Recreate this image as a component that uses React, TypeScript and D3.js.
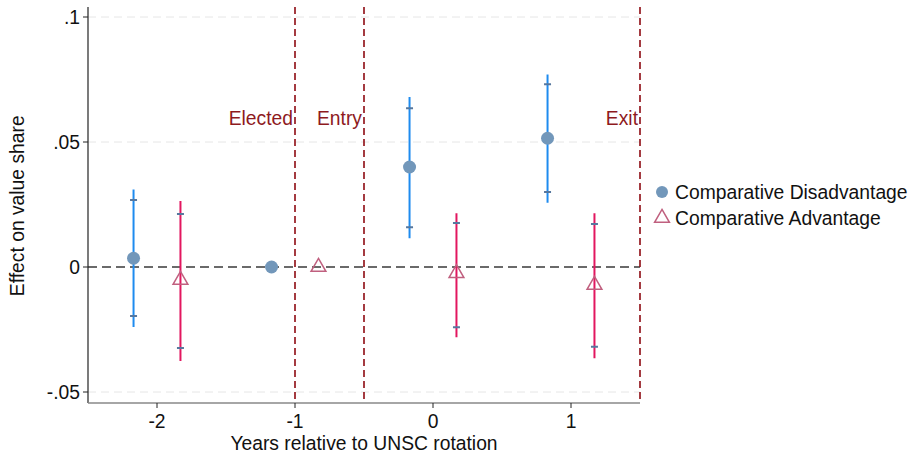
import React from 'react';
import * as d3 from 'd3';

// event study estimates, by year relative to rotation
const years = [-2, -1, 0, 1];
const cdEst = [0.0035, 0, 0.040, 0.0515];
const cdLo95 = [-0.024, null, 0.0115, 0.0257];
const cdHi95 = [0.031, null, 0.068, 0.077];
const cdLo90 = [-0.0196, null, 0.0159, 0.030];
const cdHi90 = [0.0268, null, 0.0635, 0.0731];
const caEst = [-0.0052, 0, -0.0025, -0.0072];
const caLo95 = [-0.0376, null, -0.0281, -0.0365];
const caHi95 = [0.0264, null, 0.0215, 0.0215];
const caLo90 = [-0.0324, null, -0.0241, -0.0319];
const caHi90 = [0.0212, null, 0.0176, 0.0172];

const events = [
  { x: -1, label: 'Elected' },
  { x: -0.5, label: 'Entry' },
  { x: 1.5, label: 'Exit' },
];
const yTicks = [0.1, 0.05, 0, -0.05];
const yTickLabels = ['.1', '.05', '0', '-.05'];
const xTicks = [-2, -1, 0, 1];

const W = 915;
const H = 454;
const margin = { top: 7, right: 275, bottom: 51, left: 88 };
const shift = 0.17;
const font = "'Liberation Sans', Arial, Helvetica, sans-serif";
const fs = 19.3;

const x = d3.scaleLinear().domain([-2.5, 1.5]).range([margin.left, W - margin.right]);
const y = d3.scaleLinear().domain([-0.0544, 0.104]).range([H - margin.bottom, margin.top]);

const triangle = d3.symbol().type(d3.symbolTriangle).size(95);

const series = [
  { name: 'Comparative Disadvantage', off: -shift, est: cdEst, lo95: cdLo95, hi95: cdHi95, lo90: cdLo90, hi90: cdHi90, line: '#1E8BEF', marker: '#7297BA', shape: 'circle' },
  { name: 'Comparative Advantage', off: shift, est: caEst, lo95: caLo95, hi95: caHi95, lo90: caLo90, hi90: caHi90, line: '#E2165F', marker: '#C0607F', shape: 'triangle' },
];

const App = () => {
  const x0 = x.range()[0];
  const x1 = x.range()[1];
  const yb = y.range()[0];
  const yt = y.range()[1];
  return (
    <svg width={W} height={H} style={{ position: 'absolute', left: 0, top: 0, background: '#fff' }} fontFamily={font}>
      {/* grid */}
      {yTicks.filter(t => t !== 0).map(t => (
        <line key={t} x1={x0} x2={x1} y1={y(t)} y2={y(t)} stroke="#e6e6e6" strokeWidth={1} strokeDasharray="8,5" />
      ))}
      {/* zero line */}
      <line x1={x0} x2={x1} y1={y(0)} y2={y(0)} stroke="#3a3a3a" strokeWidth={1.6} strokeDasharray="9,5" />
      {/* event lines */}
      {events.map(e => (
        <g key={e.label}>
          <line x1={x(e.x)} x2={x(e.x)} y1={yt} y2={yb} stroke="#8E0A12" strokeWidth={1.6} strokeDasharray="7,4" />
          <text x={x(e.x) - 2} y={y(0.0595)} dy="0.35em" textAnchor="end" fontSize={fs} fill="#8E1A1E">{e.label}</text>
        </g>
      ))}
      {/* axes */}
      <line x1={x0} x2={x0} y1={yt} y2={yb} stroke="#222" strokeWidth={1.2} />
      <line x1={x0} x2={x1} y1={yb} y2={yb} stroke="#888" strokeWidth={1.6} />
      {yTicks.map((t, i) => (
        <g key={t}>
          <line x1={x0 - 5} x2={x0} y1={y(t)} y2={y(t)} stroke="#222" />
          <text x={x0 - 8} y={y(t)} dy="0.35em" textAnchor="end" fontSize={fs} fill="#111">{yTickLabels[i]}</text>
        </g>
      ))}
      {xTicks.map(t => (
        <g key={t}>
          <line x1={x(t)} x2={x(t)} y1={yb} y2={yb + 5} stroke="#222" />
          <text x={x(t)} y={yb + 25} textAnchor="middle" fontSize={fs} fill="#111">{t}</text>
        </g>
      ))}
      <text x={x(-0.5)} y={H - 4} textAnchor="middle" fontSize={fs} fill="#111">Years relative to UNSC rotation</text>
      <text transform={`translate(24,${y(0.0245)}) rotate(-90)`} textAnchor="middle" fontSize={fs} fill="#111">Effect on value share</text>
      {/* estimates */}
      {series.map(s => (
        <g key={s.name}>
          {years.map((yr, i) => {
            const cx = x(yr + s.off);
            const hi = s.hi95[i];
            const lo = s.lo95[i];
            const h9 = s.hi90[i];
            const l9 = s.lo90[i];
            return (
              <g key={yr}>
                {hi != null && lo != null && (
                  <line x1={cx} x2={cx} y1={y(hi)} y2={y(lo)} stroke={s.line} strokeWidth={2} />
                )}
                {h9 != null && l9 != null && [h9, l9].map((v, j) => (
                  <line key={j} x1={cx - 3.5} x2={cx + 3.5} y1={y(v)} y2={y(v)} stroke="#56779E" strokeWidth={2} />
                ))}
                {s.shape === 'circle' ? (
                  <circle cx={cx} cy={y(s.est[i])} r={6.5} fill={s.marker} />
                ) : (
                  <path d={triangle() || ''} transform={`translate(${cx},${y(s.est[i])})`} fill="none" stroke={s.marker} strokeWidth={1.5} />
                )}
              </g>
            );
          })}
        </g>
      ))}
      {/* legend */}
      {series.map((s, i) => {
        const ly = 192 + i * 26;
        return (
          <g key={s.name}>
            {s.shape === 'circle' ? (
              <circle cx={662} cy={ly} r={6} fill={s.marker} />
            ) : (
              <path d={triangle() || ''} transform={`translate(662,${ly})`} fill="none" stroke={s.marker} strokeWidth={1.5} />
            )}
            <text x={675} y={ly} dy="0.35em" fontSize={fs} fill="#111">{s.name}</text>
          </g>
        );
      })}
    </svg>
  );
};

export default App;
